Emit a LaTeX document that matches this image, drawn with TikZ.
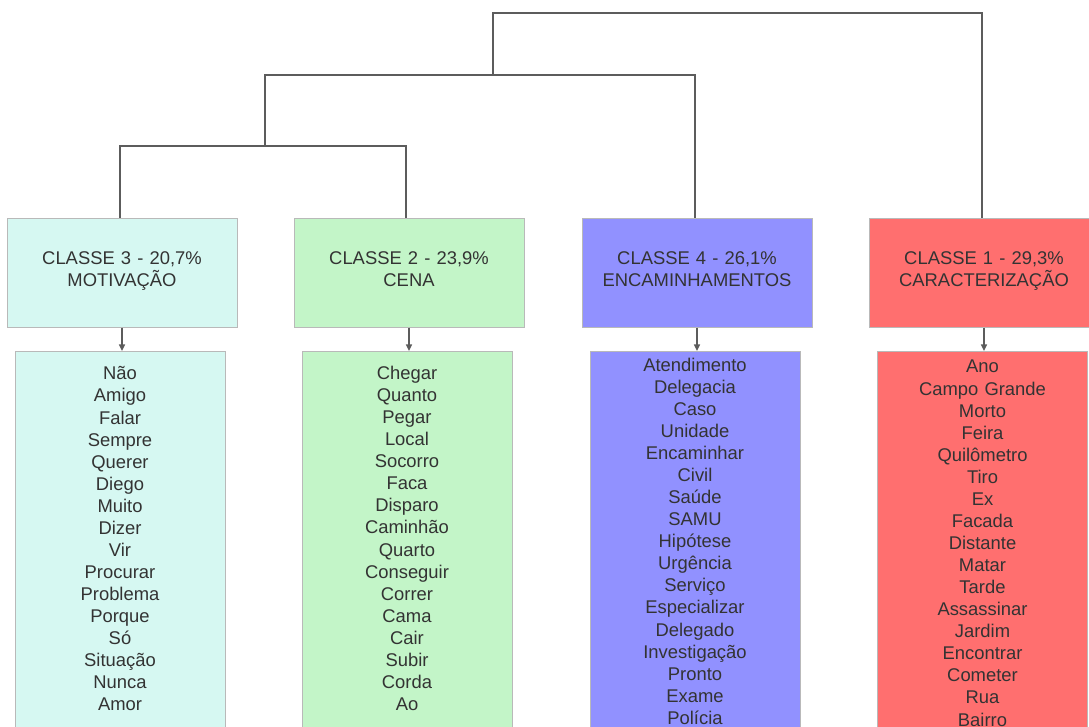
\documentclass[tikz,border=0pt]{standalone}
\usepackage{fontspec}
\setmainfont{Liberation Sans}
\usetikzlibrary{arrows.meta}

\definecolor{motiv}{HTML}{D6F8F2}
\definecolor{cena}{HTML}{C3F5C8}
\definecolor{encam}{HTML}{9191FF}
\definecolor{caract}{HTML}{FF6F6F}
\definecolor{ink}{HTML}{333333}
\definecolor{wire}{HTML}{5C5C5C}

\begin{document}
\begin{tikzpicture}[x=0.75pt, y=-0.75pt,
    every node/.style={font=\fontsize{13.8pt}{16.55pt}\selectfont, text=ink},
    classbox/.style={rectangle, draw=gray!55, line width=0.75pt, minimum width=172.5pt, minimum height=81.75pt, text width=172.5pt, inner xsep=0pt, align=center, text height=13pt, text depth=25pt},
    listbox/.style={rectangle, draw=gray!55, line width=0.75pt, anchor=north, text width=157.5pt, inner xsep=0pt, inner ysep=0pt, align=center, text depth=400pt},
    tree/.style={wire, line width=1.5pt},
    link/.style={wire, line width=1.1pt, -{Triangle[length=5pt, width=4.5pt]}}]
    \useasboundingbox (0, 0) rectangle (1089, 726);
    \clip (0, 0) rectangle (1089, 726);

    \draw
    (122, 272.5) node[classbox, fill=motiv](C3){CLASSE 3 - 20,7\%\\MOTIVAÇÃO}
    (409, 272.5) node[classbox, fill=cena](C2){CLASSE 2 - 23,9\%\\CENA}
    (697, 272.5) node[classbox, fill=encam](C4){CLASSE 4 - 26,1\%\\ENCAMINHAMENTOS}
    (984, 272.5) node[classbox, fill=caract](C1){CLASSE 1 - 29,3\%\\CARACTERIZAÇÃO};

    \draw
    (120, 351) node[listbox, fill=motiv, text height=21.3pt](L3){Não\\Amigo\\Falar\\Sempre\\Querer\\Diego\\Muito\\Dizer\\Vir\\Procurar\\Problema\\Porque\\Só\\Situação\\Nunca\\Amor}
    (407, 351) node[listbox, fill=cena, text height=21pt](L2){Chegar\\Quanto\\Pegar\\Local\\Socorro\\Faca\\Disparo\\Caminhão\\Quarto\\Conseguir\\Correr\\Cama\\Cair\\Subir\\Corda\\Ao}
    (695, 351) node[listbox, fill=encam, text height=14.8pt](L4){Atendimento\\Delegacia\\Caso\\Unidade\\Encaminhar\\Civil\\Saúde\\SAMU\\Hipótese\\Urgência\\Serviço\\Especializar\\Delegado\\Investigação\\Pronto\\Exame\\Polícia}
    (982.5, 351) node[listbox, fill=caract, text height=16.1pt](L1){Ano\\Campo Grande\\Morto\\Feira\\Quilômetro\\Tiro\\Ex\\Facada\\Distante\\Matar\\Tarde\\Assassinar\\Jardim\\Encontrar\\Cometer\\Rua\\Bairro};

    % dendrogram
    \coordinate (J32) at (265, 146);
    \coordinate (J324) at (493, 75);
    \coordinate (J3241) at (740, 13);
    \draw[tree] ([xshift=-1.5pt]C3.north) |- (J32) -| ([xshift=-2pt]C2.north);
    \draw[tree] (J32) |- (J324) -| ([xshift=-1.5pt]C4.north);
    \draw[tree] (J324) |- (J3241) -| ([xshift=-1.5pt]C1.north);

    \draw[link] (C3.south) -- (C3.south |- L3.north);
    \draw[link] (C2.south) -- (C2.south |- L2.north);
    \draw[link] (C4.south) -- (C4.south |- L4.north);
    \draw[link] (C1.south) -- (C1.south |- L1.north);

\end{tikzpicture}
\end{document}
